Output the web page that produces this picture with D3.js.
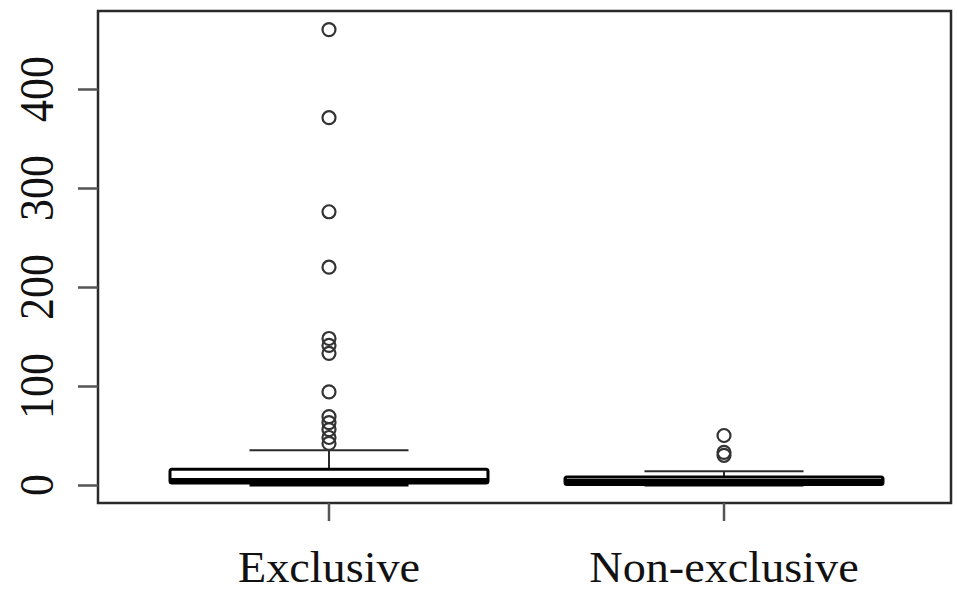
<!DOCTYPE html>
<html><head><meta charset="utf-8">
<script src="https://cdn.jsdelivr.net/npm/d3@7"></script>
<style>body{margin:0;background:#fff}svg{display:block}</style>
</head><body>
<script>
const categories = ["Exclusive", "Non-exclusive"];
const whiskerLow = [0, 0];
const q1 = [2, 0.5];
const medians = [4, 3];
const q3 = [16, 8];
const whiskerHigh = [35, 14];
const outliersExclusive = [460, 371, 276, 220, 148, 141, 133, 94, 69, 63, 56, 48, 42];
const outliersNonExclusive = [50, 33, 30];
const outliers = [outliersExclusive, outliersNonExclusive];
const yTicks = [0, 100, 200, 300, 400];

const W = 958, H = 591;
const box = {left: 98, right: 951, top: 11, bottom: 503};
const FONT = '"Liberation Serif", "Times New Roman", Times, serif';
const svg = d3.select("body").append("svg").attr("width", W).attr("height", H);

const y = d3.scaleLinear().domain([0, 400]).range([485, 89]);
const x = d3.scaleBand().domain(categories).range([170, 883]).paddingInner(0.195).paddingOuter(0);
const ink = "#2a2a2a";

// frame
svg.append("rect").attr("x", box.left).attr("y", box.top)
  .attr("width", box.right - box.left).attr("height", box.bottom - box.top)
  .attr("fill", "none").attr("stroke", ink).attr("stroke-width", 2.5);

// y axis
const yAxis = d3.axisLeft(y).tickValues(yTicks).tickSize(20).tickFormat("");
const gy = svg.append("g").attr("transform", `translate(${box.left},0)`).call(yAxis);
gy.select(".domain").remove();
gy.selectAll("line").attr("stroke", "#555").attr("stroke-width", 2.5);
svg.selectAll(".ylab").data(yTicks).enter().append("text")
  .attr("transform", d => `translate(53,${y(d)}) scale(1.1,1) rotate(-90)`)
  .attr("text-anchor", "middle")
  .style("font-family", FONT)
  .attr("font-size", 44).attr("fill", "#111").text(d => d);

// x ticks and labels
categories.forEach((c, i) => {
  const cx = x(c) + x.bandwidth() / 2;
  svg.append("line").attr("x1", cx).attr("x2", cx).attr("y1", box.bottom).attr("y2", box.bottom + 18)
    .attr("stroke", "#555").attr("stroke-width", 2.5);
  svg.append("text").attr("transform", `translate(${cx},582) scale(1.05,1)`)
    .attr("text-anchor", "middle")
    .style("font-family", FONT)
    .attr("font-size", 44).attr("fill", "#111").text(c);
});

// boxes
categories.forEach((c, i) => {
  const bx = x(c), bw = x.bandwidth(), cx = bx + bw / 2, cw = bw / 2;
  const g = svg.append("g");
  g.append("line").attr("x1", cx).attr("x2", cx).attr("y1", y(q3[i])).attr("y2", y(whiskerHigh[i]))
    .attr("stroke", ink).attr("stroke-width", 2);
  g.append("line").attr("x1", cx).attr("x2", cx).attr("y1", y(q1[i])).attr("y2", y(whiskerLow[i]))
    .attr("stroke", ink).attr("stroke-width", 2);
  g.append("line").attr("x1", cx - cw / 2).attr("x2", cx + cw / 2).attr("y1", y(whiskerHigh[i])).attr("y2", y(whiskerHigh[i]))
    .attr("stroke", ink).attr("stroke-width", 2);
  g.append("line").attr("x1", cx - cw / 2).attr("x2", cx + cw / 2).attr("y1", y(whiskerLow[i])).attr("y2", y(whiskerLow[i]))
    .attr("stroke", "#000").attr("stroke-width", 3);
  g.append("rect").attr("x", bx).attr("y", y(q3[i])).attr("width", bw).attr("height", y(q1[i]) - y(q3[i]))
    .attr("fill", "#fff").attr("stroke", "#000").attr("stroke-width", 3).attr("rx", 2);
  g.append("line").attr("x1", bx).attr("x2", bx + bw).attr("y1", y(medians[i])).attr("y2", y(medians[i]))
    .attr("stroke", "#000").attr("stroke-width", 6);
  g.selectAll("circle").data(outliers[i]).enter().append("circle")
    .attr("cx", cx).attr("cy", d => y(d)).attr("r", 6.5)
    .attr("fill", "none").attr("stroke", "#333").attr("stroke-width", 2.2);
});
</script>
</body></html>
